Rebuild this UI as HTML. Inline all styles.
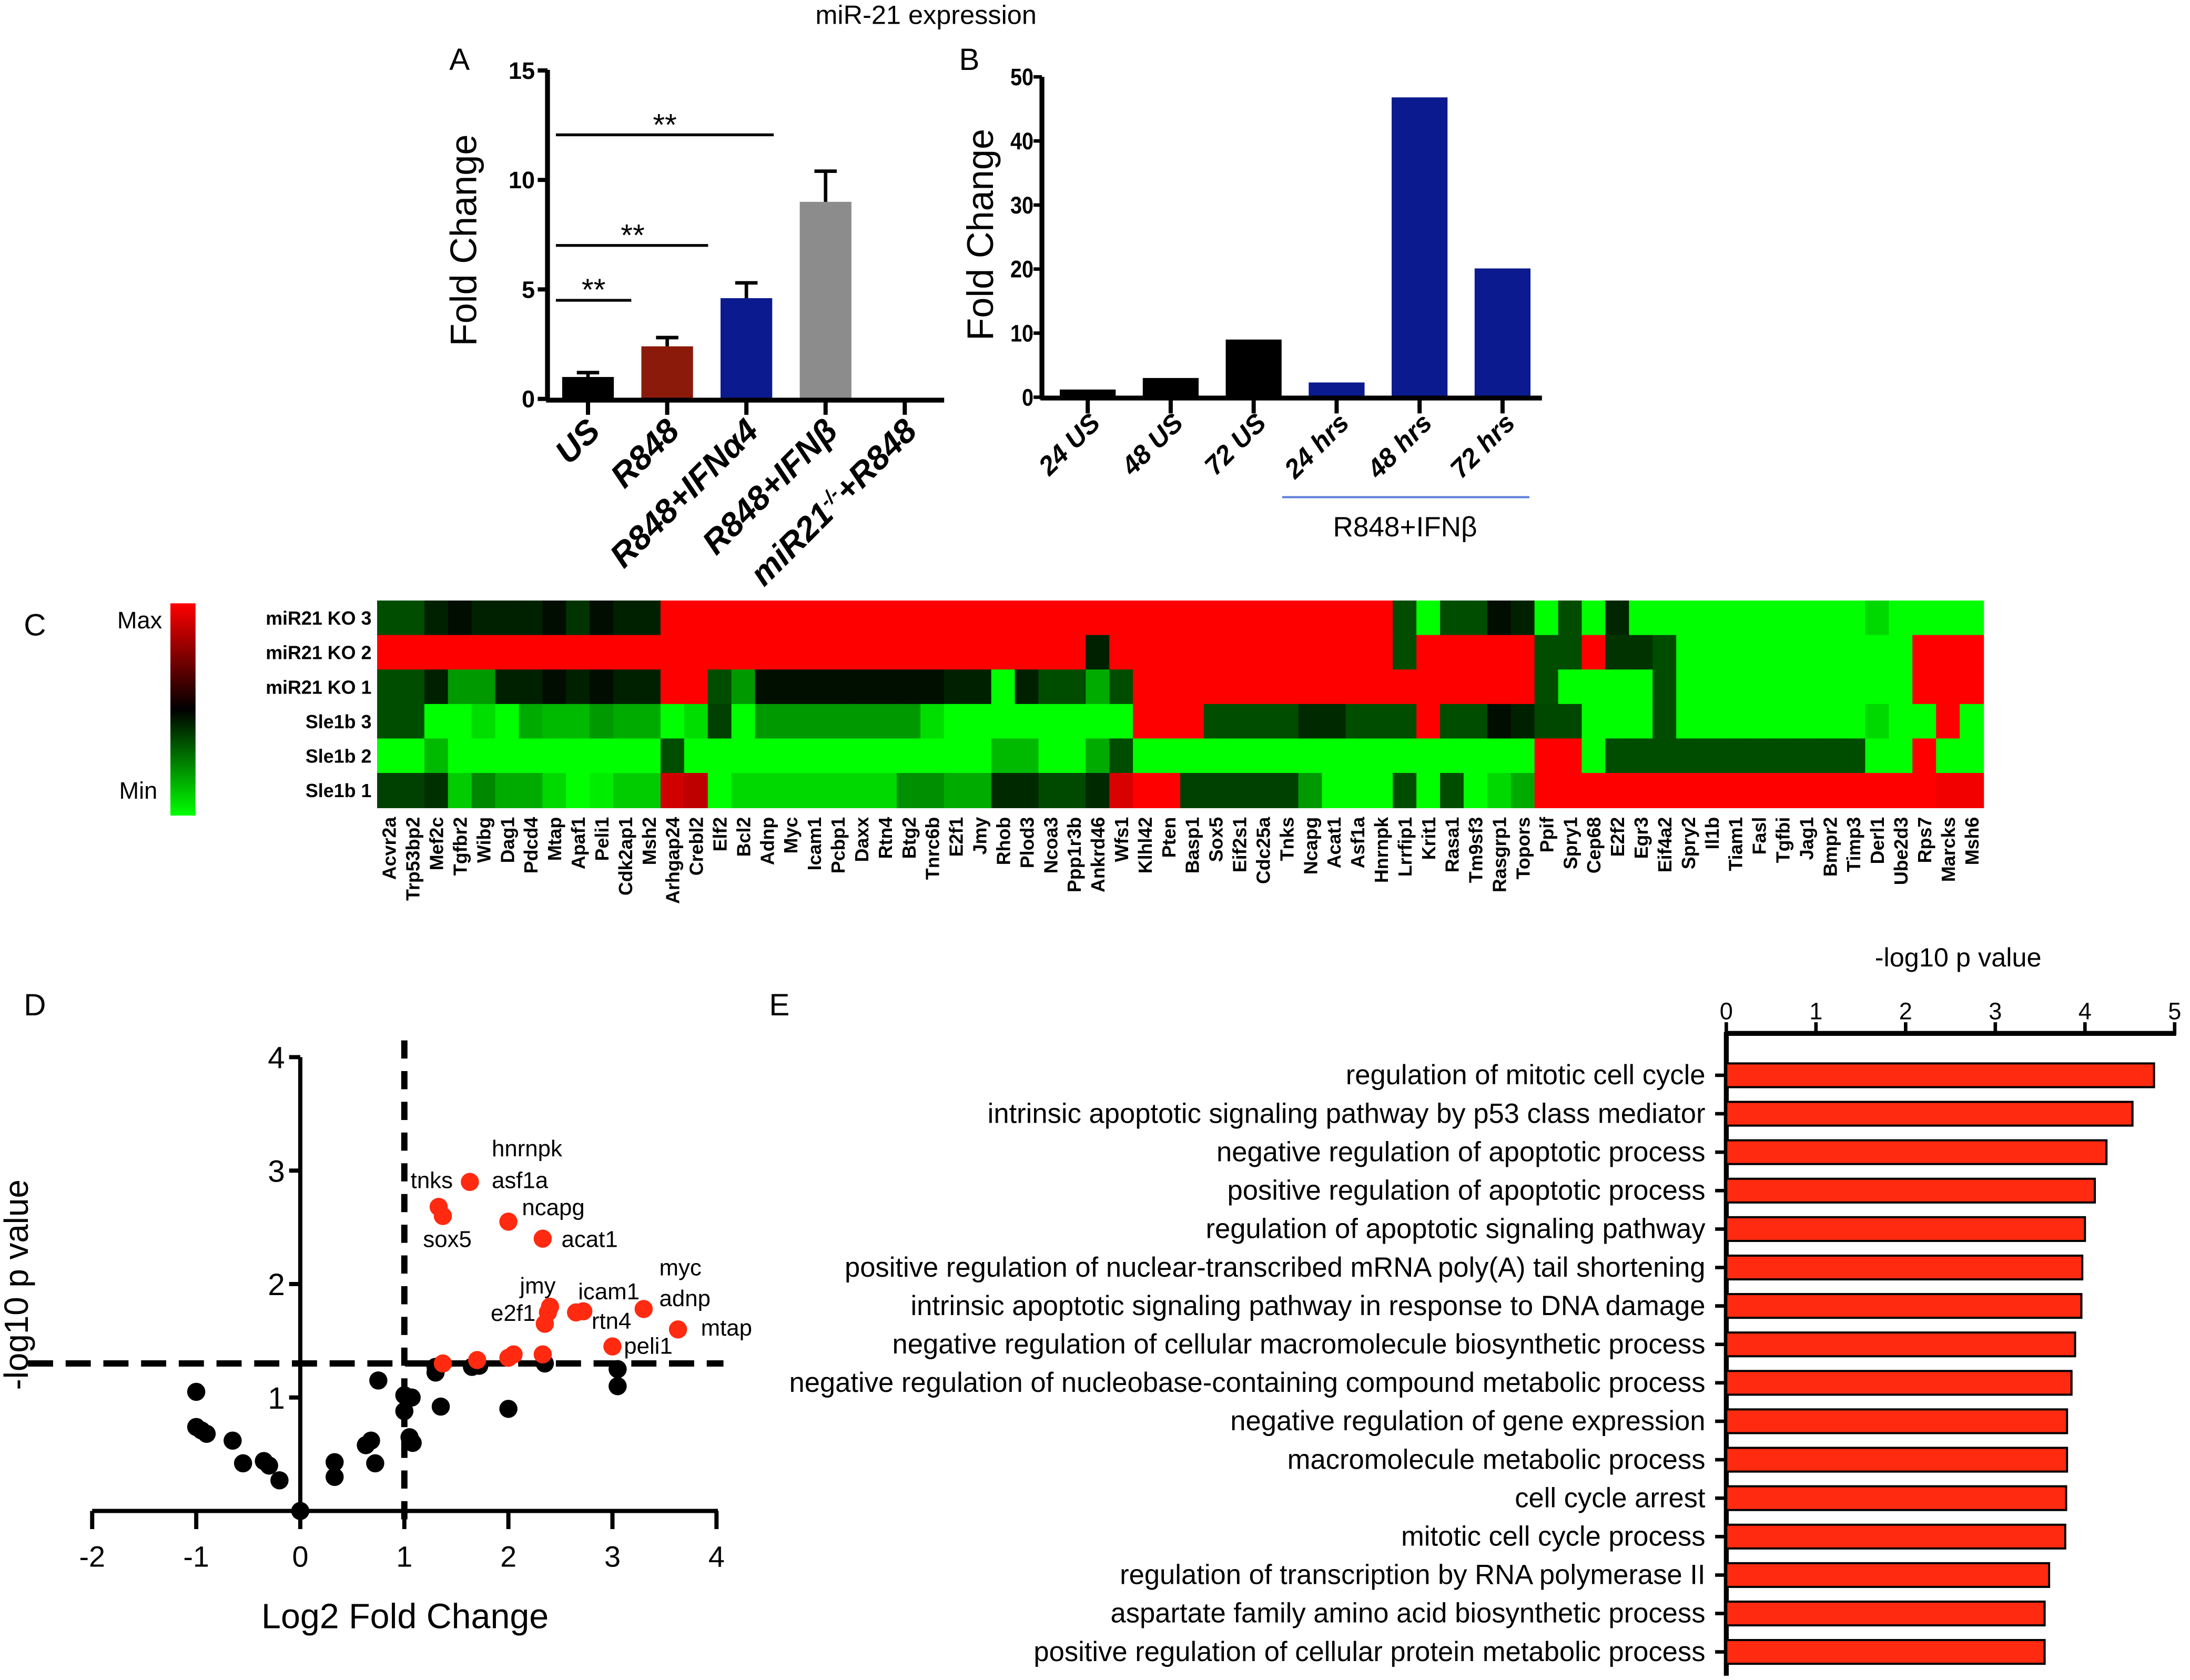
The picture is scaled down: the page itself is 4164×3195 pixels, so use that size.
<!DOCTYPE html>
<html><head><meta charset="utf-8"><style>
html,body{margin:0;padding:0;background:#fff}
svg{display:block}
text{font-family:"Liberation Sans",Arial,sans-serif}
</style></head><body>
<svg id="fig" xmlns="http://www.w3.org/2000/svg" width="4164" height="3195" viewBox="0 0 1568 1203">
<rect width="1568" height="1203" fill="#fff"/>
<text x="663" y="17" font-size="19" text-anchor="middle">miR-21 expression</text>
<text x="329" y="50" font-size="22" text-anchor="middle">A</text>
<text x="694" y="50" font-size="22" text-anchor="middle">B</text>
<text x="25" y="455" font-size="22" text-anchor="middle">C</text>
<text x="25" y="727" font-size="22" text-anchor="middle">D</text>
<text x="558" y="727" font-size="22" text-anchor="middle">E</text>
<g id="pa"></g>
<g id="pb"></g>
<g id="pc"></g>
<g id="pd"></g>
<g id="pe"></g>
</svg>
<script>
// ---- Panel A data
const aCats = ["US","R848","R848+IFNα4","R848+IFNβ","miR21-/-+R848"];
const aVals = [1.0, 2.4, 4.6, 9.0, 0];
const aErr = [1.2, 2.8, 5.3, 10.4, 0];
const aTicks = [0,5,10,15];
// ---- Panel B data
const bCats = ["24 US","48 US","72 US","24 hrs","48 hrs","72 hrs"];
const bVals = [1.2, 3.0, 9.0, 2.3, 46.8, 20.1];
const bTicks = [0,10,20,30,40,50];
// ---- Panel C data
const cRows = ["miR21 KO 3","miR21 KO 2","miR21 KO 1","Sle1b 3","Sle1b 2","Sle1b 1"];
const cGenes = ["Acvr2a","Trp53bp2","Mef2c","Tgfbr2","Wibg","Dag1","Pdcd4","Mtap","Apaf1","Peli1","Cdk2ap1","Msh2","Arhgap24","Crebl2","Elf2","Bcl2","Adnp","Myc","Icam1","Pcbp1","Daxx","Rtn4","Btg2","Tnrc6b","E2f1","Jmy","Rhob","Plod3","Ncoa3","Ppp1r3b","Ankrd46","Wfs1","Klhl42","Pten","Basp1","Sox5","Eif2s1","Cdc25a","Tnks","Ncapg","Acat1","Asf1a","Hnrnpk","Lrrfip1","Krit1","Rasa1","Tm9sf3","Rasgrp1","Topors","Ppif","Spry1","Cep68","E2f2","Egr3","Eif4a2","Spry2","Il1b","Tiam1","Fasl","Tgfbi","Jag1","Bmpr2","Timp3","Derl1","Ube2d3","Rps7","Marcks","Msh6"];
// values: positive = red intensity, negative = green intensity, 0 = black
const cKO3 = [-.3,-.3,-.13,-.05,-.13,-.13,-.13,-.05,-.2,-.05,-.13,-.13,1,1,1,1,1,1,1,1,1,1,1,1,1,1,1,1,1,1,1,1,1,1,1,1,1,1,1,1,1,1,1,-.3,-1,-.3,-.3,-.05,-.13,-1,-.3,-1,-.15,-1,-1,-1,-1,-1,-1,-1,-1,-1,-1,-.85,-1,-1,-1,-1];
const cKO2 = [1,1,1,1,1,1,1,1,1,1,1,1,1,1,1,1,1,1,1,1,1,1,1,1,1,1,1,1,1,1,-.13,1,1,1,1,1,1,1,1,1,1,1,1,-.3,1,1,1,1,1,-.3,-.3,1,-.2,-.2,-.3,-1,-1,-1,-1,-1,-1,-1,-1,-1,-1,1,1,1];
const cKO1 = [-.3,-.3,-.13,-.6,-.6,-.13,-.13,-.05,-.13,-.05,-.13,-.13,1,1,-.3,-.6,-.06,-.06,-.06,-.06,-.06,-.06,-.06,-.06,-.13,-.13,-1,-.13,-.3,-.3,-.67,-.3,1,1,1,1,1,1,1,1,1,1,1,1,1,1,1,1,1,-.3,-1,-1,-1,-1,-.3,-1,-1,-1,-1,-1,-1,-1,-1,-1,-1,1,1,1];
const cS3 = [-.3,-.3,-1,-1,-.87,-1,-.67,-.73,-.73,-.6,-.67,-.67,-1,-.87,-.25,-1,-.6,-.6,-.6,-.6,-.6,-.6,-.6,-.87,-1,-1,-1,-1,-1,-1,-1,-1,1,1,1,-.3,-.3,-.3,-.3,-.16,-.16,-.3,-.3,-.3,1,-.3,-.3,-.05,-.13,-.28,-.28,-1,-1,-1,-.3,-1,-1,-1,-1,-1,-1,-1,-1,-.85,-1,-1,1,-1];
const cS2 = [-1,-1,-.73,-1,-1,-1,-1,-1,-1,-1,-1,-1,-.3,-1,-1,-1,-1,-1,-1,-1,-1,-1,-1,-1,-1,-1,-.73,-.73,-1,-1,-.67,-.3,-1,-1,-1,-1,-1,-1,-1,-1,-1,-1,-1,-1,-1,-1,-1,-1,-1,1,1,-1,-.3,-.3,-.3,-.3,-.3,-.3,-.3,-.3,-.3,-.3,-.3,-1,-1,1,-1,-1];
const cS1 = [-.25,-.25,-.19,-.8,-.53,-.67,-.67,-.85,-1,-.93,-.8,-.8,.82,.75,-1,-.85,-.85,-.85,-.85,-.85,-.85,-.85,-.56,-.56,-.67,-.67,-.16,-.16,-.29,-.29,-.16,.85,1,1,-.25,-.25,-.25,-.25,-.25,-.6,-1,-1,-1,-.3,-1,-.3,-1,-.85,-.67,1,1,1,1,1,1,1,1,1,1,1,1,1,1,1,1,1,.95,.95];
// ---- Panel D data
const dBlackX = [-1,-1,-0.95,-0.9,-0.65,-0.55,-0.35,-0.3,-0.2,0,0.33,0.33,0.63,0.68,0.72,0.75,1.0,1.07,1.0,1.05,1.08,1.3,1.3,1.35,1.65,1.72,2.0,2.35,3.05,3.05];
const dBlackY = [1.05,0.74,0.71,0.68,0.62,0.42,0.44,0.4,0.27,0,0.43,0.3,0.58,0.62,0.42,1.15,1.02,1.0,0.88,0.65,0.6,1.22,1.27,0.92,1.27,1.28,0.9,1.3,1.25,1.1];
const dRedX = [1.33,1.37,1.63,2.0,2.33,2.4,2.38,2.35,2.65,2.72,3.3,3.63,3.0,1.37,1.7,2.0,2.05,2.33];
const dRedY = [2.68,2.6,2.9,2.55,2.4,1.8,1.75,1.65,1.75,1.76,1.78,1.6,1.45,1.3,1.33,1.35,1.38,1.38];
const dLabels = ["hnrnpk","asf1a","tnks","ncapg","sox5","acat1","myc","jmy","icam1","adnp","e2f1","rtn4","mtap","peli1"];
const dLabX = [1.84,1.84,1.06,2.13,1.18,2.51,3.45,2.11,2.67,3.45,1.83,2.8,3.85,3.11];
const dLabY = [3.2,2.92,2.92,2.68,2.4,2.4,2.15,1.99,1.94,1.88,1.75,1.68,1.62,1.46];
const dXTicks = [-2,-1,0,1,2,3,4];
const dYTicks = [1,2,3,4];
// ---- Panel E data
const eTerms = ["regulation of mitotic cell cycle","intrinsic apoptotic signaling pathway by p53 class mediator","negative regulation of apoptotic process","positive regulation of apoptotic process","regulation of apoptotic signaling pathway","positive regulation of nuclear-transcribed mRNA poly(A) tail shortening","intrinsic apoptotic signaling pathway in response to DNA damage","negative regulation of cellular macromolecule biosynthetic process","negative regulation of nucleobase-containing compound metabolic process","negative regulation of gene expression","macromolecule metabolic process","cell cycle arrest","mitotic cell cycle process","regulation of transcription by RNA polymerase II","aspartate family amino acid biosynthetic process","positive regulation of cellular protein metabolic process"];
const eVals = [4.77,4.53,4.24,4.11,4.0,3.97,3.96,3.89,3.85,3.8,3.8,3.79,3.78,3.6,3.55,3.55];
const eTicks = [0,1,2,3,4,5];

const NS="http://www.w3.org/2000/svg";
function mk(parent,tag,attrs,txt){const e=document.createElementNS(NS,tag);for(const k in attrs)e.setAttribute(k,attrs[k]);if(txt!==undefined)e.textContent=txt;parent.appendChild(e);return e;}

// ===== Panel A
(function(){
const g=document.getElementById('pa');
const y=v=>285.6-v*15.68; const x0=392, cx=i=>421+i*56.7, bw=37;
const cols=["#000","#8b1a0a","#0b1a8e","#8c8c8c","#000"];
aVals.forEach((v,i)=>{
 if(v>0){const r=mk(g,'rect',{x:cx(i)-bw/2,y:y(v),width:bw,height:285.6-y(v),fill:cols[i]});
 
 
 const e=mk(g,'path',{d:`M${cx(i)} ${y(v)}V${y(aErr[i])}M${cx(i)-8} ${y(aErr[i])}H${cx(i)+8}`,stroke:'#000','stroke-width':2.5,fill:'none'});
 
 }
});
mk(g,'path',{d:`M${x0} 50V287M${x0-1} 286.5H676`,stroke:'#000','stroke-width':3.5,fill:'none'});
aTicks.forEach(t=>{mk(g,'path',{d:`M${x0-7} ${y(t)}H${x0}`,stroke:'#000','stroke-width':3});
 const l=mk(g,'text',{x:x0-9,y:y(t)+6,'font-size':17,'font-weight':'bold','text-anchor':'end'},t);
 
 });
aCats.forEach((c,i)=>{mk(g,'path',{d:`M${cx(i)} 287V297`,stroke:'#000','stroke-width':3});
 const l=mk(g,'text',{transform:`translate(${cx(i)+10},310) rotate(-45)`,'font-size':24,'font-weight':'bold','font-style':'italic','text-anchor':'end'});
 
 
 if(c==="miR21-/-+R848"){l.innerHTML='miR21<tspan dy="-8" font-size="14">-/-</tspan><tspan dy="8">+R848</tspan>';} else l.textContent=c;});
const sig=[[398,452,215,425,207],[398,507,175.7,453,168],[398,554,96.5,476,89]];
sig.forEach(s=>{mk(g,'path',{d:`M${s[0]} ${s[2]}H${s[1]}`,stroke:'#000','stroke-width':2});
 const t=mk(g,'text',{x:s[3],y:s[4]+8,'font-size':22,'text-anchor':'middle'},'**');
 
 });
const yt=mk(g,'text',{transform:'translate(341,172) rotate(-90)','font-size':26.5,'text-anchor':'middle'},'Fold Change');


})();

// ===== Panel B
(function(){
const g=document.getElementById('pb');
const y=v=>284.4-v*4.588; const x0=746, cx=i=>778.8+i*59.4, bw=40;
bVals.forEach((v,i)=>{const r=mk(g,'rect',{x:cx(i)-bw/2,y:y(v),width:bw,height:284.4-y(v),fill:i<3?'#000':'#0b1a8e'});
 
 });
mk(g,'path',{d:`M${x0} 55V286M${x0-1} 285H1104`,stroke:'#000','stroke-width':3.5,fill:'none'});
bTicks.forEach(t=>{mk(g,'path',{d:`M${x0-6} ${y(t)}H${x0}`,stroke:'#000','stroke-width':2.5});
 const l=mk(g,'text',{x:x0-6,y:y(t)+6,'font-size':17,'font-weight':'bold','text-anchor':'end',transform:`translate(${(x0-6)*0.12},0) scale(0.88,1)`},t);
 
 });
bCats.forEach((c,i)=>{mk(g,'path',{d:`M${cx(i)} 286V296`,stroke:'#000','stroke-width':3});
 const l=mk(g,'text',{transform:`translate(${cx(i)+10},304) rotate(-45)`,'font-size':19,'font-weight':'bold','font-style':'italic','text-anchor':'end'},c);
 
 });
mk(g,'path',{d:'M918 356H1095',stroke:'#5b7fd8','stroke-width':1.5});
const gl=mk(g,'text',{x:1006,y:384,'font-size':20,'text-anchor':'middle'},'R848+IFNβ');


const yt=mk(g,'text',{transform:'translate(711,168) rotate(-90)','font-size':26.5,'text-anchor':'middle'},'Fold Change');


})();

// ===== Panel C
(function(){
const g=document.getElementById('pc');
const defs=mk(g,'defs',{});
const lg=mk(defs,'linearGradient',{id:'cb',x1:0,y1:0,x2:0,y2:1});
mk(lg,'stop',{offset:'0','stop-color':'#ff0000'});mk(lg,'stop',{offset:'0.5','stop-color':'#000'});mk(lg,'stop',{offset:'1','stop-color':'#00ff00'});
const cb=mk(g,'rect',{x:122,y:432,width:18,height:152,fill:'url(#cb)'});


const mx=mk(g,'text',{x:100,y:450,'font-size':17,'text-anchor':'middle'},'Max');


const mn=mk(g,'text',{x:99,y:572,'font-size':17,'text-anchor':'middle'},'Min');


const rows=[cKO3,cKO2,cKO1,cS3,cS2,cS1];
const x0=270, cw=1150/cGenes.length, y0=430, rh=24.7;
function col(v){if(v>=0)return `rgb(${Math.round(255*v)},0,0)`;return `rgb(0,${Math.round(255*-v)},0)`;}
rows.forEach((r,ri)=>{
 const l=mk(g,'text',{x:266,y:y0+ri*rh+rh/2+5,'font-size':13.5,'font-weight':'bold','text-anchor':'end'},cRows[ri]);
 
 
 r.forEach((v,ci)=>{const c=mk(g,'rect',{x:x0+ci*cw,y:y0+ri*rh,width:cw+0.5,height:rh+0.5,fill:col(v)});
  
  });
});
cGenes.forEach((n,ci)=>{const t=mk(g,'text',{transform:`translate(${x0+ci*cw+cw/2+5},585) rotate(-90)`,'font-size':13.5,'font-weight':'bold','text-anchor':'end'},n);
 
 });
})();

// ===== Panel D
(function(){
const g=document.getElementById('pd');
const x=v=>215+v*74.5, y=v=>1082-v*81.25;
mk(g,'path',{d:`M${x(0)} 757V1083M66 1082H514`,stroke:'#000','stroke-width':3,fill:'none'});
dYTicks.forEach(t=>{mk(g,'path',{d:`M${x(0)-8} ${y(t)}H${x(0)}`,stroke:'#000','stroke-width':3});
 const l=mk(g,'text',{x:x(0)-11,y:y(t)+8,'font-size':22,'text-anchor':'end'},t);
 
 });
dXTicks.forEach(t=>{mk(g,'path',{d:`M${x(t)} 1082V1095`,stroke:'#000','stroke-width':3});
 const l=mk(g,'text',{x:x(t),y:1122,'font-size':21,'text-anchor':'middle'},t);
 
 });
mk(g,'path',{d:`M${x(1)} 745V1090`,stroke:'#000','stroke-width':4.5,'stroke-dasharray':'13 9'});
mk(g,'path',{d:`M20 ${y(1.3)}H518`,stroke:'#000','stroke-width':4.5,'stroke-dasharray':'18 9'});
dBlackX.forEach((v,i)=>{const c=mk(g,'circle',{cx:x(v),cy:y(dBlackY[i]),r:6.5,fill:'#000'});
 
 });
dRedX.forEach((v,i)=>{const c=mk(g,'circle',{cx:x(v),cy:y(dRedY[i]),r:6.5,fill:'#ff2a10'});
 
 });
dLabels.forEach((n,i)=>{const t=mk(g,'text',{x:x(dLabX[i]),y:y(dLabY[i])+6,'font-size':16.5,'text-anchor':'start'},n);
 
 });
const xt=mk(g,'text',{x:290,y:1166,'font-size':25,'text-anchor':'middle'},'Log2 Fold Change');


const yt=mk(g,'text',{transform:'translate(20,920) rotate(-90)','font-size':24,'text-anchor':'middle'},'-log10 p value');


})();

// ===== Panel E
(function(){
const g=document.getElementById('pe');
const x=v=>1236+v*64.2, ry=i=>770+i*27.53;
const tt=mk(g,'text',{x:1402,y:692,'font-size':19,'text-anchor':'middle'},'-log10 p value');


eTicks.forEach(t=>{mk(g,'path',{d:`M${x(t)} 732V741`,stroke:'#000','stroke-width':2.5});
 const l=mk(g,'text',{x:x(t),y:730,'font-size':17,'text-anchor':'middle'},t);
 
 });
mk(g,'path',{d:`M1236 740H1558M1236 739V1200`,stroke:'#000','stroke-width':3.5,fill:'none'});
eTerms.forEach((n,i)=>{
 const b=mk(g,'rect',{x:1236,y:ry(i)-8.5,width:x(eVals[i])-1236,height:17,fill:'#ff2a10',stroke:'#000','stroke-width':1.5});
 
 
 mk(g,'path',{d:`M1228 ${ry(i)}H1236`,stroke:'#000','stroke-width':2.5});
 const l=mk(g,'text',{x:1221,y:ry(i)+6.5,'font-size':19.8,'text-anchor':'end'},n);
 
 
});
})();
</script>
</body></html>
